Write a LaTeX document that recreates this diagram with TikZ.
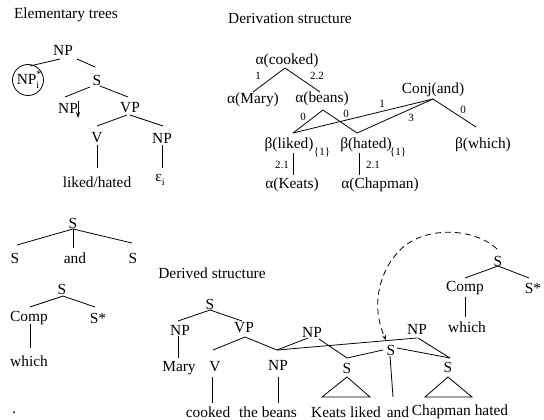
\documentclass[tikz,border=0pt]{standalone}
\usepackage{fontspec}
\setmainfont{Liberation Serif}
\usetikzlibrary{arrows.meta}
\begin{document}
\begin{tikzpicture}[x=1pt,y=-1pt,
  every node/.style={inner sep=0pt, font=\fontsize{15.4}{18}\selectfont},
  lbl/.style={font=\fontsize{11}{13}\selectfont},
  edge/.style={line width=0.8pt},
  circ/.style={draw, circle, line width=0.8pt, minimum size=31pt},
  ]
\useasboundingbox (0,0) rectangle (544,420);

% titles
\node (t1) at (66,15) {Elementary trees};
\node (t2) at (290,18) {Derivation structure};
\node (t3) at (212,273) {Derived structure};

% ---------- elementary tree 1
\node (enp) at (63,50) {NP};
\node[circ] (ecirc) at (28,80) {};
\node (ecirctxt) at (28,80) {NP\rlap{\raisebox{0.42em}{\fontsize{10}{12}\selectfont *}}\raisebox{-0.28em}{\fontsize{10}{12}\selectfont i}};
\node (es) at (97,80) {S};
\node (enpd) at (68,108) {NP};
\node (evp) at (130,108) {VP};
\node (ev) at (97,138) {V};
\node (enp2) at (162,138) {NP};
\node (elh) at (97,182) {liked/hated};
\node (eeps) at (160,180) {ε\raisebox{-0.3em}{\fontsize{10}{12}\selectfont i}};
\draw[edge] ([shift={(-3,9)}]enp.center) -- ([shift={(2,-14)}]ecirc.center);
\draw[edge] ([shift={(14,9)}]enp.center) -- ([shift={(-2,-13)}]es.center);
\draw[edge] ([shift={(-7,7)}]es.center) -- ([shift={(-3,-11)}]enpd.center);
\draw[edge] ([shift={(3,6)}]es.center) -- ([shift={(-2,-11)}]evp.center);
\draw[edge] ([shift={(-3,7)}]evp.center) -- ([shift={(0,-12)}]ev.center);
\draw[edge] ([shift={(0,7)}]evp.center) -- ([shift={(1,-12)}]enp2.center);
\draw[edge] ([shift={(0,7)}]ev.center) -- ([shift={(0,-14)}]elh.center);
\draw[edge] ([shift={(0,7)}]enp2.center) -- ([shift={(2,-12)}]eeps.center);
\draw[edge,-{Stealth[length=6pt,width=4pt]}] ([shift={(10,-7)}]enpd.center) -- ([shift={(10,10)}]enpd.center);

% ---------- elementary tree 2 (and)
\node (as) at (73,223) {S};
\node (as1) at (15,258) {S};
\node (aand) at (75,258) {and};
\node (as2) at (133,258) {S};
\draw[edge] ([shift={(0,6)}]as.center) -- ([shift={(2,-13)}]as1.center);
\draw[edge] ([shift={(0,6)}]as.center) -- ([shift={(-2,-10)}]aand.center);
\draw[edge] ([shift={(0,6)}]as.center) -- ([shift={(-1,-15)}]as2.center);

% ---------- elementary tree 3 (which)
\node (ws) at (62,289) {S};
\node (wcomp) at (29,318) {Comp};
\node (wss) at (98,318) {S*};
\node (wwhich) at (29,361) {which};
\draw[edge] ([shift={(1,7)}]ws.center) -- ([shift={(1,-11)}]wcomp.center);
\draw[edge] ([shift={(1,7)}]ws.center) -- ([shift={(-3,-11)}]wss.center);
\draw[edge] ([shift={(1,6)}]wcomp.center) -- ([shift={(1,-13)}]wwhich.center);

\node (dot) at (14,413) {.};

% ---------- derivation structure
\node (dcooked) at (287,61) {α(cooked)};
\node (dmary) at (253,100) {α(Mary)};
\node (dbeans) at (322,99) {α(beans)};
\node (dconj) at (433,90) {Conj(and)};
\node (dliked) at (289,145) {β(liked)};
\node (dhated) at (366,145) {β(hated)};
\node (dwhich) at (483,145) {β(which)};
\node (dkeats) at (292,185) {α(Keats)};
\node (dchap) at (380,185) {α(Chapman)};
\node[lbl] (sub1) at (322,152) {\{1\}};
\node[lbl] (sub2) at (398,152) {\{1\}};
\draw[edge] ([shift={(-2,7)}]dcooked.center) -- ([shift={(0,-8)}]dmary.center);
\draw[edge] ([shift={(-2,7)}]dcooked.center) -- ([shift={(-2,-7)}]dbeans.center);
\draw[edge] ([shift={(1,11)}]dbeans.center) -- ([shift={(4,-12)}]dliked.center);
\draw[edge] ([shift={(1,11)}]dbeans.center) -- ([shift={(-9,-12)}]dhated.center);
\draw[edge] ([shift={(0,9)}]dconj.center) -- ([shift={(4,-12)}]dliked.center);
\draw[edge] ([shift={(0,9)}]dconj.center) -- ([shift={(-9,-12)}]dhated.center);
\draw[edge] ([shift={(0,9)}]dconj.center) -- ([shift={(-7,-18)}]dwhich.center);
\draw[edge] ([shift={(4,8)}]dliked.center) -- ([shift={(1,-10)}]dkeats.center);
\draw[edge] ([shift={(-7,8)}]dhated.center) -- ([shift={(-21,-10)}]dchap.center);
\node[lbl] (l1) at (258,76) {1};
\node[lbl] (l2) at (317,76) {2.2};
\node[lbl] (l3) at (303,117) {0};
\node[lbl] (l4) at (346,114) {0};
\node[lbl] (l5) at (382,104) {1};
\node[lbl] (l6) at (411,118) {3};
\node[lbl] (l7) at (463,110) {0};
\node[lbl] (l8) at (282,165) {2.1};
\node[lbl] (l9) at (373,165) {2.1};

% ---------- derived structure
\node (rs) at (210,304) {S};
\node (rnp) at (180,330) {NP};
\node (rvp) at (244,328) {VP};
\node (rmary) at (179,368) {Mary};
\node (rv) at (215,367) {V};
\node (rnp2) at (278,365) {NP};
\node (rcooked) at (208,412) {cooked};
\node (rbeans) at (268,412) {the beans};
\node (rkeats) at (346,412) {Keats liked};
\node (rand) at (398,412) {and};
\node (rchap) at (460,412) {Chapman hated};
\node (rnp1) at (312,332) {NP};
\node (rnp3) at (417,329) {NP};
\node (rsl) at (347,368) {S};
\node (rsm) at (391,350) {S};
\node (rsr) at (448,367) {S};
\node (rws) at (498,261) {S};
\node (rcomp) at (465,288) {Comp};
\node (rss) at (533,288) {S*};
\node (rwhich) at (467,327) {which};

\draw[edge] ([shift={(0,6)}]rs.center) -- ([shift={(-2,-9)}]rnp.center);
\draw[edge] ([shift={(0,6)}]rs.center) -- ([shift={(-2,-7)}]rvp.center);
\draw[edge] ([shift={(-2,6)}]rnp.center) -- ([shift={(-1,-10)}]rmary.center);
\draw[edge] ([shift={(1,9)}]rvp.center) -- ([shift={(-2,-17)}]rv.center);
\draw[edge] ([shift={(1,9)}]rvp.center) -- ([shift={(-1,-15)}]rnp2.center);
\draw[edge] ([shift={(-3,10)}]rv.center) -- ([shift={(4,-9)}]rcooked.center);
\draw[edge] ([shift={(0,12)}]rnp2.center) -- ([shift={(10,-9)}]rbeans.center);
\draw[edge] ([shift={(-1,-15)}]rnp2.center) -- ([shift={(-4,6)}]rnp1.center);
\draw[edge] ([shift={(-1,-15)}]rnp2.center) -- ([shift={(0,9)}]rnp3.center);
\draw[edge] ([shift={(7,7)}]rnp1.center) -- ([shift={(0,-10)}]rsl.center);
\draw[edge] ([shift={(0,-10)}]rsl.center) -- ([shift={(-8,0)}]rsm.center);
\draw[edge] ([shift={(6,-2)}]rsm.center) -- ([shift={(2,-9)}]rsr.center);
\draw[edge] ([shift={(1,9)}]rnp3.center) -- ([shift={(2,-9)}]rsr.center);
\draw[edge] ([shift={(-1,6)}]rsm.center) -- ([shift={(-5,-15)}]rand.center);
\draw[edge] ([shift={(0,9)}]rsl.center) -- ([shift={(-25,29)}]rsl.center) -- ([shift={(23,29)}]rsl.center) -- cycle;
\draw[edge] ([shift={(0,10)}]rsr.center) -- ([shift={(-23,30)}]rsr.center) -- ([shift={(24,30)}]rsr.center) -- cycle;
\draw[edge] ([shift={(0,5)}]rws.center) -- ([shift={(0,-10)}]rcomp.center);
\draw[edge] ([shift={(0,5)}]rws.center) -- ([shift={(-4,-10)}]rss.center);
\draw[edge] ([shift={(0,9)}]rcomp.center) -- ([shift={(-2,-10)}]rwhich.center);
\draw[edge, dash pattern=on 6pt off 4pt, -{Stealth[length=5pt,width=4pt]}]
  ([shift={(-1,-12)}]rws.center) .. controls (475,228) and (425,225) .. (400,250)
  .. controls (380,270) and (370,305) .. ([shift={(-5,-10)}]rsm.center);
\end{tikzpicture}
\end{document}
